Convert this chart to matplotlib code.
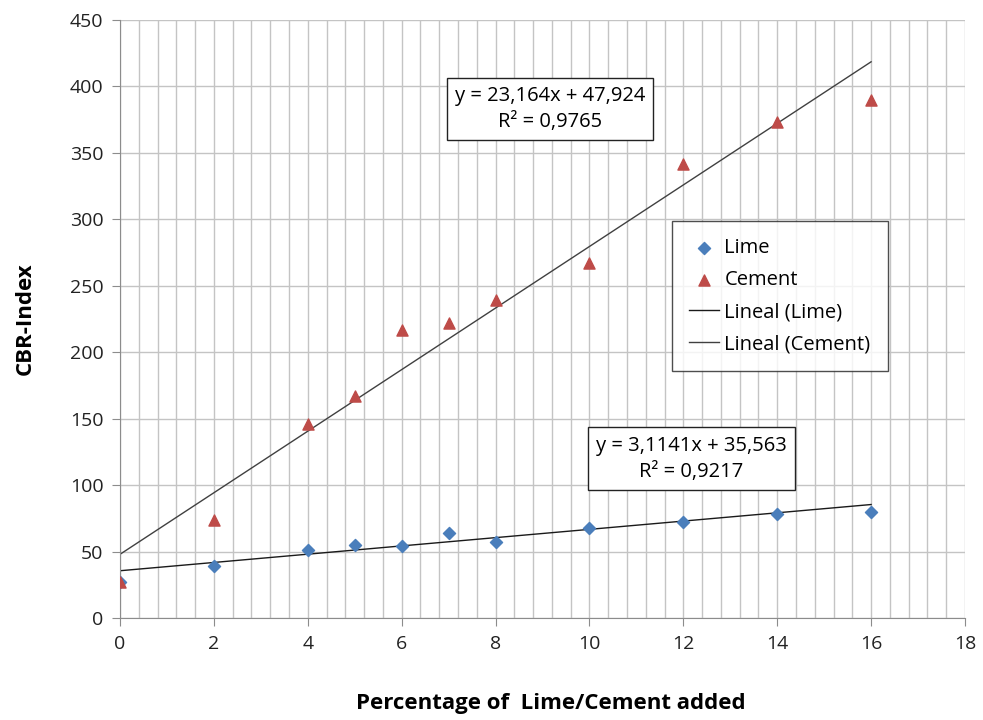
import matplotlib
matplotlib.use("Agg")
import matplotlib.pyplot as plt
import numpy as np
from matplotlib.ticker import MultipleLocator

x_lime = [0, 2, 4, 5, 6, 7, 8, 10, 12, 14, 16]
y_lime = [27, 39, 51, 55, 54, 64, 57, 68, 72, 78, 80]
x_cement = [0, 2, 4, 5, 6, 7, 8, 10, 12, 14, 16]
y_cement = [27, 74, 146, 167, 217, 222, 239, 267, 342, 373, 390]

lime_coef = (3.1141, 35.563)
cement_coef = (23.164, 47.924)
lime_label = "y = 3,1141x + 35,563\nR² = 0,9217"
cement_label = "y = 23,164x + 47,924\nR² = 0,9765"

FONT = 'Open Sans'
plt.rcParams['font.family'] = [FONT, 'DejaVu Sans']

fig = plt.figure(figsize=(9.83, 7.2), dpi=100)
ax = fig.add_axes([120/983, 1-618/720, 845/983, 598/720])

ax.set_xlim(0, 18)
ax.set_ylim(0, 450)
ax.xaxis.set_major_locator(MultipleLocator(2))
ax.xaxis.set_minor_locator(MultipleLocator(0.4))
ax.yaxis.set_major_locator(MultipleLocator(50))
ax.grid(which='major', color='#c4c4c4', linewidth=1.0)
ax.grid(which='minor', axis='x', color='#c4c4c4', linewidth=1.0)
ax.set_axisbelow(True)
for s in ['top', 'right']:
    ax.spines[s].set_visible(False)
for s in ['left', 'bottom']:
    ax.spines[s].set_color('#8c8c8c')
ax.tick_params(which='major', direction='out', length=6, color='#8c8c8c',
               labelsize=14, labelcolor='#222222', pad=6)
ax.tick_params(which='minor', length=0)

ax.scatter(x_lime, y_lime, marker='D', s=38, color='#4a7ebb', zorder=3, label='Lime')
ax.scatter(x_cement, y_cement, marker='^', s=64, color='#be4b48', zorder=3, label='Cement')

xl = np.array([0, 16])
ax.plot(xl, lime_coef[0]*xl + lime_coef[1], color='#1a1a1a', lw=1.0, label='Lineal (Lime)', zorder=2)
ax.plot(xl, cement_coef[0]*xl + cement_coef[1], color='#404040', lw=1.0, label='Lineal (Cement)', zorder=2)

ax.set_xlabel('Percentage of  Lime/Cement added', fontsize=16, fontweight='bold', va='center')
ax.xaxis.set_label_coords((551-120)/845, -(703-618)/598)
ax.set_ylabel('CBR-Index', fontsize=16, fontweight='bold', labelpad=24)

bbox = dict(boxstyle='square,pad=0.4', facecolor='white', edgecolor='#222222', linewidth=1.0)
ax.text(9.16, 383, cement_label, ha='center', va='center', fontsize=14.5,
        linespacing=1.4, bbox=bbox, zorder=4)
ax.text(12.17, 120, lime_label, ha='center', va='center', fontsize=14.5,
        linespacing=1.4, bbox=bbox, zorder=4)

leg = ax.legend(loc='upper left', bbox_to_anchor=(552/845, (618-221)/598),
                borderaxespad=0, frameon=True, fancybox=False, edgecolor='#222222',
                prop={'size': 14.5}, labelspacing=0.6,
                handlelength=1.5, handletextpad=0.25, borderpad=0.85)
leg.get_frame().set_linewidth(1.0)

fig.savefig('out.png', dpi=100)
